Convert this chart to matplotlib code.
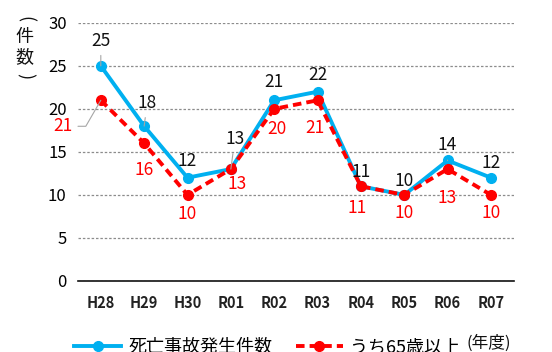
import numpy as np
import matplotlib
matplotlib.use("Agg")
import matplotlib.pyplot as plt

plt.rcParams['font.family'] = ['Noto Sans CJK JP', 'DejaVu Sans']

years = ["H28", "H29", "H30", "R01", "R02", "R03", "R04", "R05", "R06", "R07"]
deaths = [25, 18, 12, 13, 21, 22, 11, 10, 14, 12]
deaths_65 = [21, 16, 10, 13, 20, 21, 11, 10, 13, 10]

BLUE = "#00B0F0"
RED = "#FF0000"

# label offsets in pixels (dx, dy) relative to each point
blue_off = [(0, 25), (3, 23), (0, 17), (4, 30), (0, 18), (0, 17), (0, 14), (0, 14), (0, 15), (0, 15)]
red_off = [(-38, -26), (0, -27), (0, -19), (6, -15), (3, -20), (-3, -28), (-4, -22), (0, -18), (0, -29), (0, -18)]
blue_leader = [True, True, False, True, False, False, False, False, True, False]
red_leader = [True, False, False, False, False, False, False, False, False, False]

fig = plt.figure(figsize=(5.52, 3.52), dpi=100)
ax = fig.add_axes([0.141, 0.202, 0.790, 0.733])

x = np.arange(len(years))
ax.plot(x, deaths, color=BLUE, lw=2.8, marker="o", ms=7, zorder=3,
        label="死亡事故発生件数")
ax.plot(x, deaths_65, color=RED, lw=2.8, ls=(0, (2.2, 1.3)), marker="o", ms=7,
        zorder=4, label="うち65歳以上")

for i in range(len(years)):
    ap = dict(arrowstyle="-", color="#A6A6A6", lw=0.8, shrinkA=2, shrinkB=0) if blue_leader[i] else None
    ax.annotate(str(deaths[i]), (x[i], deaths[i]), xytext=blue_off[i],
                textcoords="offset pixels", ha="center", va="center",
                fontsize=12.5, color="#111111", arrowprops=ap, zorder=5)
    ap = dict(arrowstyle="-", color="#A6A6A6", lw=0.8, shrinkA=2, shrinkB=0,
              connectionstyle="angle,angleA=0,angleB=60,rad=0") if red_leader[i] else None
    ax.annotate(str(deaths_65[i]), (x[i], deaths_65[i]), xytext=red_off[i],
                textcoords="offset pixels", ha="center", va="center",
                fontsize=12.5, color=RED, arrowprops=ap, zorder=5)

ax.set_xlim(-0.53, len(years) - 0.47)
ax.set_ylim(0, 30)
ax.set_yticks(range(0, 31, 5))
ax.set_xticks(x)
ax.set_xticklabels(years, fontsize=10.5, fontweight="bold", color="#222222")
ax.tick_params(axis="y", labelsize=12, length=0, pad=8)
ax.tick_params(axis="x", length=0, pad=10)
ax.yaxis.grid(True, ls=(0, (2, 1.5)), color="#8C8C8C", lw=0.9)
ax.set_axisbelow(True)
for s in ["top", "right", "left"]:
    ax.spines[s].set_visible(False)
ax.spines["bottom"].set_color("#111111")
ax.spines["bottom"].set_linewidth(1.2)

# vertical axis title: stacked characters with turned brackets
fig.text(0.045, 0.945, "(", rotation=-90, ha="center", va="center",
         fontsize=13, color="#111111")
fig.text(0.045, 0.865, "件\n数", ha="center", va="center",
         fontsize=13, linespacing=1.15, color="#111111")
fig.text(0.045, 0.785, ")", rotation=-90, ha="center", va="center",
         fontsize=13, color="#111111")

leg = fig.legend(loc="upper left", bbox_to_anchor=(0.118, 0.064), ncol=2,
                 frameon=False, fontsize=13, handlelength=2.6,
                 columnspacing=1.3, handletextpad=0.4, borderpad=0)
fig.text(0.885, 0.024, "(年度)", ha="center", va="center", fontsize=12, color="#111111")

fig.savefig("out.png", dpi=100)
